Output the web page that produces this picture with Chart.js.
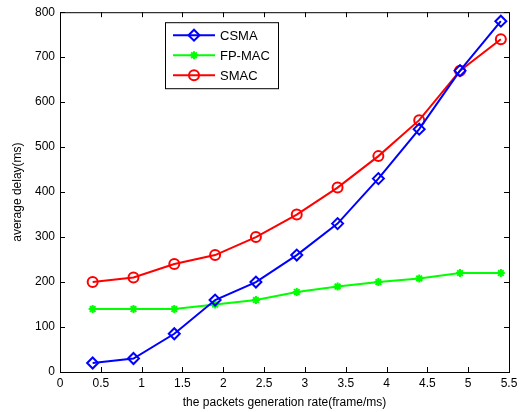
<!DOCTYPE html>
<html>
<head>
<meta charset="utf-8">
<script src="https://cdn.jsdelivr.net/npm/chart.js@4/dist/chart.umd.min.js"></script>
<style>
  html, body { margin: 0; padding: 0; background: #fff; }
  #wrap { width: 524px; height: 412px; }
</style>
</head>
<body>
<div id="wrap"><canvas id="chart" width="524" height="412"></canvas></div>
<script>
const rates = [0.4, 0.9, 1.4, 1.9, 2.4, 2.9, 3.4, 3.9, 4.4, 4.9, 5.4];
const csma = [20, 30, 85, 160, 200, 260, 330, 430, 540, 670, 780];
const fpmac = [140, 140, 140, 150, 160, 178, 190, 200, 208, 220, 220];
const smac = [200, 210, 240, 260, 300, 350, 410, 480, 560, 670, 740];
const xTicks = [0, 0.5, 1, 1.5, 2, 2.5, 3, 3.5, 4, 4.5, 5, 5.5];
const yTicks = [0, 100, 200, 300, 400, 500, 600, 700, 800];

const FONT = 'Liberation Sans, Arial, sans-serif';

function pts(ys) {
  return rates.map((x, i) => ({ x, y: ys[i] }));
}

// MATLAB style box with inward ticks on all four sides
const boxPlugin = {
  id: 'box',
  afterDraw(chart) {
    const { ctx, chartArea: a, scales } = chart;
    ctx.save();
    ctx.strokeStyle = '#000';
    ctx.lineWidth = 1;
    ctx.strokeRect(a.left + 0.5, a.top + 0.5, a.right - a.left, a.bottom - a.top);
    ctx.beginPath();
    xTicks.forEach(v => {
      const px = Math.round(scales.x.getPixelForValue(v)) + 0.5;
      ctx.moveTo(px, a.bottom); ctx.lineTo(px, a.bottom - 5);
      ctx.moveTo(px, a.top); ctx.lineTo(px, a.top + 5);
    });
    yTicks.forEach(v => {
      const py = Math.round(scales.y.getPixelForValue(v)) + 0.5;
      ctx.moveTo(a.left, py); ctx.lineTo(a.left + 5, py);
      ctx.moveTo(a.right, py); ctx.lineTo(a.right - 5, py);
    });
    ctx.stroke();
    ctx.restore();
  }
};

// legend box with line + marker samples
const legendPlugin = {
  id: 'boxLegend',
  afterDraw(chart) {
    const { ctx, chartArea: a } = chart;
    const x0 = a.left + 105, y0 = a.top + 10, w = 113, h = 66;
    ctx.save();
    ctx.fillStyle = '#fff';
    ctx.fillRect(x0, y0, w, h);
    ctx.strokeStyle = '#000';
    ctx.lineWidth = 1;
    ctx.strokeRect(x0 + 0.5, y0 + 0.5, w, h);
    ctx.font = '13px ' + FONT;
    ctx.textBaseline = 'middle';
    chart.data.datasets.forEach((ds, i) => {
      const cy = y0 + 13 + i * 20;
      ctx.strokeStyle = ds.borderColor;
      ctx.lineWidth = 2;
      ctx.beginPath();
      ctx.moveTo(x0 + 8, cy); ctx.lineTo(x0 + 50, cy);
      ctx.stroke();
      ctx.fillStyle = ds.pointBackgroundColor;
      ctx.strokeStyle = ds.pointBorderColor;
      ctx.lineWidth = ds.pointBorderWidth;
      Chart.helpers.drawPoint(ctx, {
        pointStyle: ds.pointStyle, radius: ds.pointRadius, rotation: 0,
        borderWidth: ds.pointBorderWidth
      }, x0 + 29, cy);
      ctx.fillStyle = '#000';
      ctx.fillText(ds.label, x0 + 55, cy + 1);
    });
    ctx.restore();
  }
};

new Chart(document.getElementById('chart'), {
  type: 'line',
  data: {
    datasets: [
      {
        label: 'CSMA', data: pts(csma),
        borderColor: '#0000ff', backgroundColor: '#fff', borderWidth: 2,
        pointStyle: 'rectRot', pointRadius: 5.5, pointBorderWidth: 2,
        pointBackgroundColor: 'rgba(255,255,255,0)', pointBorderColor: '#0000ff'
      },
      {
        label: 'FP-MAC', data: pts(fpmac),
        borderColor: '#00ff00', backgroundColor: '#00ff00', borderWidth: 2,
        pointStyle: 'star', pointRadius: 4, pointBorderWidth: 2,
        pointBackgroundColor: '#00ff00', pointBorderColor: '#00ff00'
      },
      {
        label: 'SMAC', data: pts(smac),
        borderColor: '#ff0000', backgroundColor: '#fff', borderWidth: 2,
        pointStyle: 'circle', pointRadius: 5, pointBorderWidth: 2,
        pointBackgroundColor: 'rgba(255,255,255,0)', pointBorderColor: '#ff0000'
      }
    ]
  },
  options: {
    responsive: false,
    animation: false,
    layout: { padding: { left: 0, right: 15, top: 12, bottom: 0 } },
    plugins: {
      legend: { display: false },
      tooltip: { enabled: false }
    },
    scales: {
      x: {
        type: 'linear', min: 0, max: 5.5,
        afterBuildTicks: s => { s.ticks = xTicks.map(v => ({ value: v })); },
        afterFit: s => { s.height = 40; },
        grid: { display: false, drawTicks: false },
        border: { display: false },
        ticks: { color: '#000', font: { family: FONT, size: 12 }, padding: 4, maxRotation: 0,
          callback: v => String(v) },
        title: { display: true, text: 'the packets generation rate(frame/ms)', color: '#000',
          font: { family: FONT, size: 12 }, padding: { top: 0, bottom: 2 } }
      },
      y: {
        type: 'linear', min: 0, max: 800,
        afterBuildTicks: s => { s.ticks = yTicks.map(v => ({ value: v })); },
        afterFit: s => { s.width = 60; },
        grid: { display: false, drawTicks: false },
        border: { display: false },
        ticks: { color: '#000', font: { family: FONT, size: 12 }, padding: 5,
          callback: v => String(v) },
        title: { display: true, text: 'average delay(ms)', color: '#000',
          font: { family: FONT, size: 12 }, padding: { top: 10, bottom: 0 } }
      }
    }
  },
  plugins: [boxPlugin, legendPlugin]
});
</script>
</body>
</html>
